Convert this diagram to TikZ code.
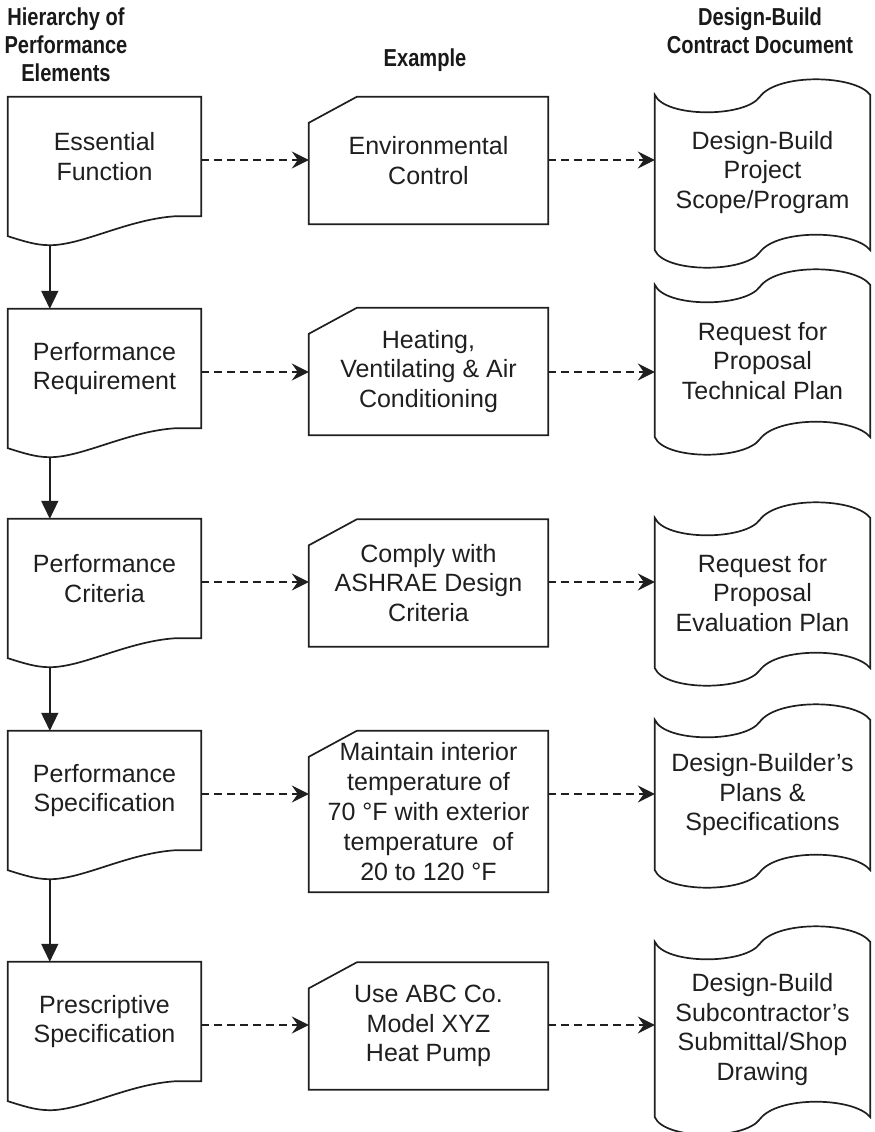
\documentclass[tikz,border=0pt]{standalone}
\usepackage{fontspec}
\setmainfont{Liberation Sans}
\newfontfamily\headfont[FakeStretch=0.82]{Liberation Sans}
\usetikzlibrary{arrows.meta,calc}

% outline of a flowchart "document" box: wavy bottom edge
\newcommand{\docshape}[1]{%
  \draw[shapeline] (#1.south east) -- (#1.north east) -- (#1.north west)
    -- ($(#1.south west)+(0,20)$)
    .. controls ($(#1.south west)+(16,25)$) and ($(#1.south west)+(28,29)$) .. ($(#1.south west)+(42,29)$)
    .. controls ($(#1.south west)+(75,29)$) and ($(#1.south west)+(120,3)$) .. ($(#1.south west)+(168,0)$)
    -- cycle;}
% outline of a card with the top left corner cut off
\newcommand{\cardshape}[1]{%
  \draw[shapeline] ($(#1.north west)+(48,0)$) -- (#1.north east) -- (#1.south east)
    -- (#1.south west) -- ($(#1.north west)+(0,26)$) -- cycle;}
% outline of a punched tape: wavy top and bottom edges
\newcommand{\tapeshape}[1]{%
  \draw[shapeline] (#1.north west)
    .. controls ($(#1.north west)+(10,23)$) and ($(#1.north west)+(90,23)$) .. ($(#1.north west)+(105,2)$)
    .. controls ($(#1.north west)+(123,-22)$) and ($(#1.north west)+(200,-20)$) .. (#1.north east)
    -- (#1.south east)
    .. controls ($(#1.south west)+(200,-20)$) and ($(#1.south west)+(123,-22)$) .. ($(#1.south west)+(105,2)$)
    .. controls ($(#1.south west)+(90,23)$) and ($(#1.south west)+(10,23)$) .. (#1.south west)
    -- cycle;}

\begin{document}
\begin{tikzpicture}[x=1pt,y=-1pt,
  shapeline/.style={draw=black!88, line width=1.7pt, line join=miter},
  textbox/.style={draw=none, align=center, inner sep=0pt, text=black!88,
    font=\fontsize{25}{29.5}\selectfont},
  leftbox/.style={textbox, minimum width=193pt, minimum height=119pt},
  midbox/.style={textbox, minimum width=239pt, minimum height=127pt},
  rightbox/.style={textbox, minimum width=215pt},
  header/.style={align=center, inner sep=0pt, text=black!90,
    font=\headfont\bfseries\fontsize{24.5}{28}\selectfont},
  flowarrow/.style={draw=black!88, line width=1.7pt, -{Triangle[length=18pt,width=17pt]}},
  dasharrow/.style={draw=black!88, line width=1.6pt, dash pattern=on 8pt off 5pt,
    -{Stealth[length=17pt,width=17pt,inset=6pt]}}]

\useasboundingbox (0,0) rectangle (875,1132);

% column headings
\node[header] (h1) at (66,45) {Hierarchy of\\Performance\\Elements};
\node[header] (h2) at (425,60) {Example};
\node[header] (h3) at (760,31) {Design-Build\\Contract Document};

% hierarchy of performance elements
\node[leftbox] (l1) at (104.5,156.5) {Essential\\Function};
\node[leftbox] (l2) at (104.5,368.5) {Performance\\Requirement};
\node[leftbox] (l3) at (104.5,578.5) {Performance\\Criteria};
\node[leftbox] (l4) at (104.5,790.5) {Performance\\Specification};
\node[leftbox] (l5) at (104.5,1021.5) {Prescriptive\\Specification};
\foreach \n in {l1,l2,l3,l4,l5} {\docshape{\n}}

% examples
\node[midbox] (m1) at (428.5,160.5) {Environmental\\Control};
\node[midbox] (m2) at (428.5,371.5) {Heating,\\Ventilating \& Air\\Conditioning};
\node[midbox] (m3) at (428.5,583) {Comply with\\ASHRAE Design\\Criteria};
\node[midbox, minimum height=161pt, font=\fontsize{25}{30}\selectfont] (m4) at (428.5,811.5)
  {Maintain interior\\temperature of\\70 °F with exterior\\temperature\ \ of\\20 to 120 °F};
\node[midbox] (m5) at (428.5,1026) {Use ABC Co.\\Model XYZ\\Heat Pump};
\foreach \n in {m1,m2,m3,m4,m5} {\cardshape{\n}}

% contract documents
\node[rightbox, minimum height=155pt] (r1) at (762.5,172.5) {Design-Build\\Project\\Scope/Program};
\node[rightbox, minimum height=152pt] (r2) at (762.5,361) {Request for\\Proposal\\Technical Plan};
\node[rightbox, minimum height=150pt] (r3) at (762.5,593) {Request for\\Proposal\\Evaluation Plan};
\node[rightbox, minimum height=150pt] (r4) at (762.5,795) {Design-Builder’s\\Plans \&\\Specifications};
\node[rightbox, minimum height=175pt] (r5) at (762.5,1029.5) {Design-Build\\Subcontractor’s\\Submittal/Shop\\Drawing};
\foreach \n in {r1,r2,r3,r4,r5} {\tapeshape{\n}}

% hierarchy arrows, from the lowest point of each wavy edge
\foreach \a/\b in {l1/l2,l2/l3,l3/l4,l4/l5} {
  \coordinate (\a low) at ($(\a.south west)+(42,29)$);
  \draw[flowarrow] (\a low) -- (\a low |- \b.north);
}

% dashed links across each row
\foreach \i in {1,...,5} {
  \coordinate (row\i) at ($(l\i.east)+(0,3.5)$);
  \draw[dasharrow] (row\i) -- (row\i -| m\i.west);
  \draw[dasharrow] (row\i -| m\i.east) -- (row\i -| r\i.west);
}
\end{tikzpicture}
\end{document}
